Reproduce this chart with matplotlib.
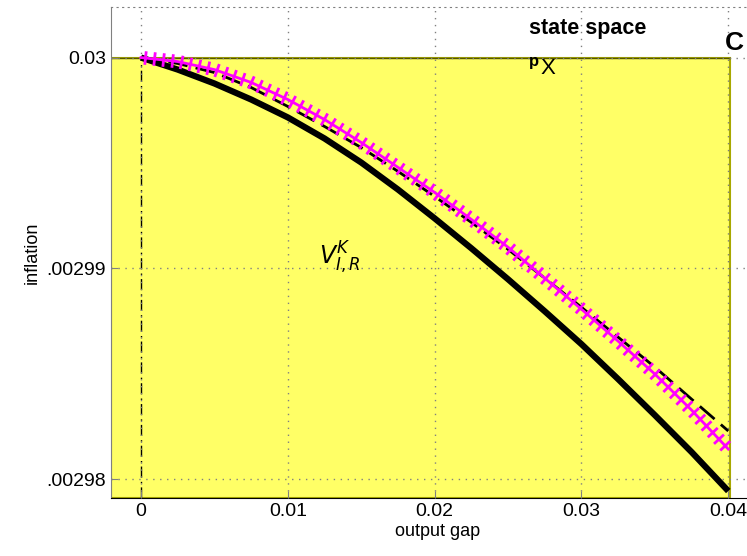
import numpy as np
import matplotlib
matplotlib.use("Agg")
import matplotlib.pyplot as plt
import matplotlib.patheffects as pe
from matplotlib.patches import Rectangle

plt.rcParams['font.family'] = ['Liberation Sans', 'DejaVu Sans']

# output gap grid
gap = [0.0, 0.0025, 0.005, 0.0075, 0.01, 0.0125, 0.015, 0.0175, 0.02,
       0.0225, 0.025, 0.0275, 0.03, 0.0325, 0.035, 0.0375, 0.04]

# thick black curve
infl_solid = [0.00300000, 0.00299943, 0.00299877, 0.00299801, 0.00299716,
              0.00299616, 0.00299502, 0.00299374, 0.00299237, 0.00299095,
              0.00298948, 0.00298796, 0.00298640, 0.00298474, 0.00298303,
              0.00298128, 0.00297943]
# dashed black curve
infl_dash = [0.00300000, 0.00299972, 0.00299929, 0.00299858, 0.00299768,
             0.00299673, 0.00299573, 0.00299460, 0.00299341, 0.00299218,
             0.00299090, 0.00298953, 0.00298815, 0.00298673, 0.00298531,
             0.00298379, 0.00298228]
# magenta crossed curve
infl_px = [0.00300000, 0.00299981, 0.00299943, 0.00299882, 0.00299801,
           0.00299706, 0.00299597, 0.00299479, 0.00299360, 0.00299232,
           0.00299100, 0.00298953, 0.00298806, 0.00298654, 0.00298498,
           0.00298327, 0.00298142]

xticks = [0, 0.01, 0.02, 0.03, 0.04]
xticklabels = ['0', '0.01', '0.02', '0.03', '0.04']
yticks = [0.00298, 0.00299, 0.003]
yticklabels = ['.00298', '.00299', '0.03']

xlo, xhi = -0.002044, 0.0425
ylo, yhi = 0.0029791, 0.0030024

fig = plt.figure(figsize=(7.47, 5.56), dpi=100)
ax = fig.add_axes([111/747, 58/556, (765-111)/747, (498-7)/556])
ax.set_xlim(xlo, xhi)
ax.set_ylim(ylo, yhi)

# yellow state-space region
ax.add_patch(Rectangle((xlo, ylo), 0.0401 - xlo, 0.003 - ylo,
                       facecolor='#ffff66', edgecolor='#a8a800', lw=1.5, zorder=0.5))
ax.plot([xlo, 0.0401], [0.003, 0.003], color='#555500', lw=1, zorder=1)

ax.grid(True, color='#808080', linestyle=(0, (1, 4)), lw=1)
ax.set_axisbelow(False)

ax.plot([0, 0], [ylo, 0.003], color='black', lw=1, dashes=(8, 3, 1, 3), zorder=2)

ax.plot(gap, infl_solid, color='black', lw=4.5, solid_capstyle='butt', zorder=3)
ax.plot(gap, infl_dash, color='black', lw=2, dashes=(7, 3), zorder=3)
ax.plot(gap, infl_px, color='#ff00ff', lw=2, zorder=4,
        path_effects=[pe.TickedStroke(spacing=6.5, angle=90, length=0.6),
                      pe.TickedStroke(spacing=6.5, angle=-90, length=0.6),
                      pe.Normal()])

ax.set_xticks(xticks)
ax.set_xticklabels(xticklabels)
ax.set_yticks(yticks)
ax.set_yticklabels(yticklabels)
ax.tick_params(labelsize=14, direction='in', length=5, color='#808080')

ax.spines['right'].set_visible(False)
ax.spines['top'].set_color('#808080')
ax.spines['top'].set_linestyle((0, (1, 4)))
ax.spines['left'].set_color('#808080')
ax.spines['bottom'].set_color('black')

ax.set_xlabel('output gap', fontsize=13, labelpad=2)
ax.set_ylabel('inflation', fontsize=13, labelpad=4)

ax.text(0.0264, 0.0030014, 'state space', fontsize=15.5, fontweight='bold', va='center')
ax.text(0.0264, 0.0029998, 'p', fontsize=12, fontweight='bold', va='center')
ax.text(0.0272, 0.0029995, 'X', fontsize=16, va='center')
ax.text(0.0398, 0.0030007, 'C', fontsize=19, fontweight='bold', va='center')
ax.text(0.0121, 0.0029905, r'$V_{I,R}^{K}$', fontsize=17, va='center')

fig.savefig('out.png', dpi=100)
